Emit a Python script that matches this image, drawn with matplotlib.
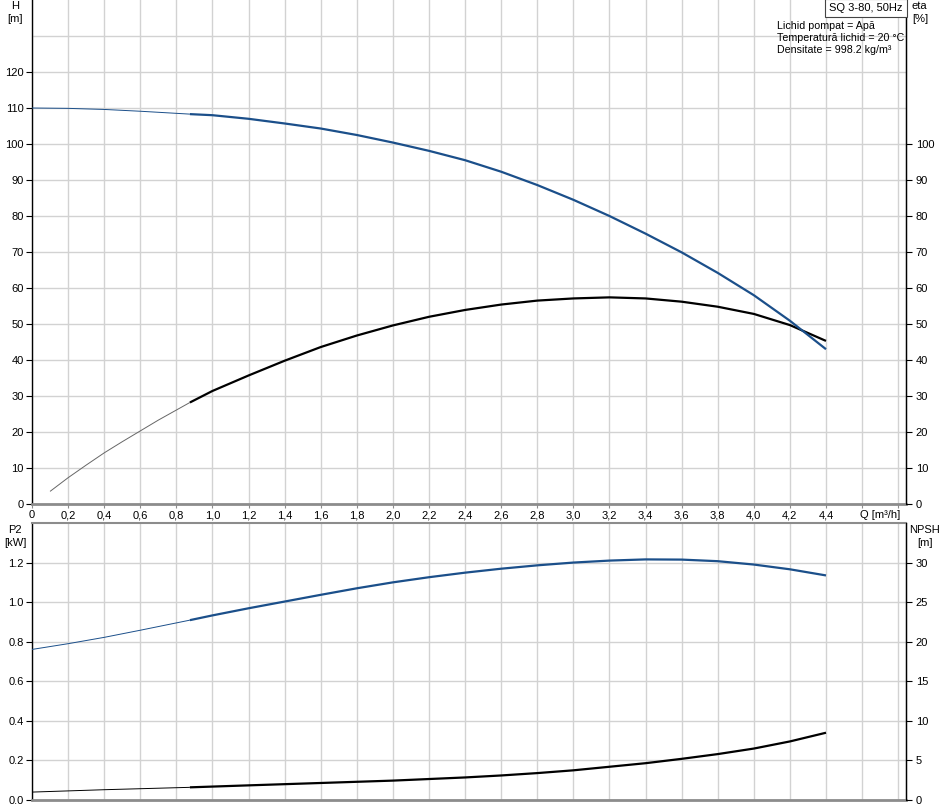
import numpy as np
import matplotlib
matplotlib.use("Agg")
import matplotlib.pyplot as plt

plt.rcParams['font.family'] = ['Liberation Sans', 'DejaVu Sans']

# ---------------- data ----------------
q_h = [0, 0.2, 0.4, 0.6, 0.875, 1.0, 1.2, 1.4, 1.6, 1.8, 2.0, 2.2, 2.4, 2.6, 2.8, 3.0, 3.2, 3.4, 3.6, 3.8, 4.0, 4.2, 4.4]
head = [110, 109.9, 109.6, 109.1, 108.3, 108.0, 107.0, 105.7, 104.3, 102.5, 100.4, 98.1, 95.5, 92.3, 88.6, 84.5, 80.0, 75.1, 69.9, 64.2, 58.0, 50.9, 43.0]

q_eta = [0.1, 0.2, 0.3, 0.4, 0.5, 0.6, 0.7, 0.8, 0.875, 1.0, 1.2, 1.4, 1.6, 1.8, 2.0, 2.2, 2.4, 2.6, 2.8, 3.0, 3.2, 3.4, 3.6, 3.8, 4.0, 4.2, 4.4]
eta = [3.5, 7.3, 10.8, 14.2, 17.3, 20.3, 23.3, 26.1, 28.2, 31.4, 35.7, 39.8, 43.6, 46.8, 49.6, 52.0, 53.9, 55.4, 56.5, 57.1, 57.4, 57.1, 56.2, 54.8, 52.8, 49.7, 45.3]

q_p2 = [0, 0.2, 0.4, 0.6, 0.875, 1.0, 1.2, 1.4, 1.6, 1.8, 2.0, 2.2, 2.4, 2.6, 2.8, 3.0, 3.2, 3.4, 3.6, 3.8, 4.0, 4.2, 4.4]
p2 = [0.761, 0.790, 0.822, 0.858, 0.909, 0.933, 0.969, 1.003, 1.037, 1.070, 1.100, 1.126, 1.149, 1.169, 1.186, 1.200, 1.210, 1.216, 1.215, 1.207, 1.190, 1.166, 1.135]

q_npsh = [0, 0.4, 0.875, 1.2, 1.6, 2.0, 2.4, 2.6, 2.8, 3.0, 3.2, 3.4, 3.6, 3.8, 4.0, 4.2, 4.4]
npsh = [1.0, 1.3, 1.6, 1.85, 2.15, 2.45, 2.85, 3.1, 3.4, 3.75, 4.2, 4.65, 5.2, 5.8, 6.5, 7.4, 8.5]

q_split = 0.875  # start of the recommended operating range (thick line)

x_ticks = [0, 0.2, 0.4, 0.6, 0.8, 1.0, 1.2, 1.4, 1.6, 1.8, 2.0, 2.2, 2.4, 2.6, 2.8, 3.0, 3.2, 3.4, 3.6, 3.8, 4.0, 4.2, 4.4, 4.6, 4.8]
x_labels = ["0", "0,2", "0,4", "0,6", "0,8", "1,0", "1,2", "1,4", "1,6", "1,8", "2,0", "2,2", "2,4", "2,6", "2,8", "3,0", "3,2", "3,4", "3,6", "3,8", "4,0", "4,2", "4,4", "", ""]
h_ticks = [0, 10, 20, 30, 40, 50, 60, 70, 80, 90, 100, 110, 120]
eta_ticks = [0, 10, 20, 30, 40, 50, 60, 70, 80, 90, 100]
p2_ticks = [0.0, 0.2, 0.4, 0.6, 0.8, 1.0, 1.2]
npsh_ticks = [0, 5, 10, 15, 20, 25, 30]

# ---------------- styling ----------------
W, Hpx = 945, 808
BLUE = '#1b4f8a'
GRID = '#d2d2d2'
SPINE_GRAY = '#8c8c8c'
FS = 8

fig = plt.figure(figsize=(W / 100, Hpx / 100), dpi=100)
fig.patch.set_facecolor('white')

def rect(l, t, r, b):
    return [l / W, 1 - b / Hpx, (r - l) / W, (b - t) / Hpx]

XMAX = 4.4 * (906 - 32) / (826 - 32)

def split_plot(ax, q, v, color, thin_color):
    q = np.asarray(q); v = np.asarray(v)
    m1 = q <= q_split
    m2 = q >= q_split
    ax.plot(q[m1], v[m1], color=thin_color, lw=0.7, solid_capstyle='butt', zorder=3)
    ax.plot(q[m2], v[m2], color=color, lw=1.6, solid_capstyle='butt',
            solid_joinstyle='round', zorder=4)

def style_axes(ax, top_gray=False):
    ax.set_xlim(0, XMAX)
    ax.set_xticks(x_ticks)
    ax.set_xticks([], minor=True)
    ax.grid(True, which='both', color=GRID, lw=1.0)
    ax.set_axisbelow(True)
    for s in ['left', 'right']:
        ax.spines[s].set_color('black')
        ax.spines[s].set_linewidth(1.0)
    ax.spines['bottom'].set_color(SPINE_GRAY)
    ax.spines['bottom'].set_linewidth(2.0)
    ax.spines['top'].set_color(SPINE_GRAY)
    ax.spines['top'].set_linewidth(1.5 if top_gray else 0)
    ax.tick_params(axis='y', which='major', direction='out', length=4, width=0.8,
                   labelsize=FS, pad=2, color='black')
    ax.tick_params(axis='y', which='minor', length=0)
    ax.tick_params(axis='x', which='both', direction='out', length=3, width=0.8,
                   color=SPINE_GRAY, labelsize=FS, pad=1.5)

# ---------------- top axes: H and eta ----------------
ax1 = fig.add_axes(rect(32, 0, 906, 504))
style_axes(ax1)
ax1.set_ylim(0, 140)
ax1.set_yticks(h_ticks)
ax1.set_yticks([130], minor=True)
ax1.set_xticklabels(x_labels)
split_plot(ax1, q_eta, eta, 'black', '#666666')
split_plot(ax1, q_h, head, BLUE, BLUE)

ax1r = ax1.twinx()
ax1r.set_ylim(0, 140)
ax1r.set_yticks(eta_ticks)
ax1r.tick_params(axis='y', direction='out', length=4, width=0.8, labelsize=FS, pad=3)
for s in ['left', 'top', 'bottom']:
    ax1r.spines[s].set_visible(False)
ax1r.spines['right'].set_color('black')

# ---------------- bottom axes: P2 and NPSH ----------------
ax2 = fig.add_axes(rect(32, 523, 906, 800))
style_axes(ax2, top_gray=True)
ax2.set_ylim(0, 1.4)
ax2.set_yticks(p2_ticks)
ax2.set_yticklabels([f"{v:.1f}" for v in p2_ticks])
ax2.set_xticklabels([])
ax2.tick_params(axis='x', length=0)
npsh_on_p2 = [v * 1.4 / 35 for v in npsh]
split_plot(ax2, q_npsh, npsh_on_p2, 'black', 'black')
split_plot(ax2, q_p2, p2, BLUE, BLUE)

ax2r = ax2.twinx()
ax2r.set_ylim(0, 35)
ax2r.set_yticks(npsh_ticks)
ax2r.tick_params(axis='y', direction='out', length=4, width=0.8, labelsize=FS, pad=3)
for s in ['left', 'top', 'bottom']:
    ax2r.spines[s].set_visible(False)
ax2r.spines['right'].set_color('black')

# ---------------- texts ----------------
def ftext(x, y, s, ha='center', va='center', fs=FS, **kw):
    fig.text(x / W, 1 - y / Hpx, s, ha=ha, va=va, fontsize=fs, **kw)

ftext(15, 6, "H")
ftext(15, 19, "[m]")
ftext(912, 6, "eta", ha='left')
ftext(912, 19, "[%]", ha='left')
ftext(15, 530, "P2")
ftext(15, 543, "[kW]")
ftext(925, 530, "NPSH")
ftext(925, 543, "[m]")
ftext(900, 515, "Q [m³/h]", ha='right')

fig.text(866 / W, 1 - 8 / Hpx, "SQ 3-80, 50Hz", ha='center', va='center', fontsize=FS,
         bbox=dict(boxstyle='square,pad=0.35', fc='white', ec='#444444', lw=0.8))
ftext(777, 26, "Lichid pompat = Apă", ha='left', fs=7.7)
ftext(777, 38, "Temperatură lichid = 20 °C", ha='left', fs=7.7)
ftext(777, 50, "Densitate = 998.2 kg/m³", ha='left', fs=7.7)

fig.savefig("out.png", dpi=100, facecolor='white')
